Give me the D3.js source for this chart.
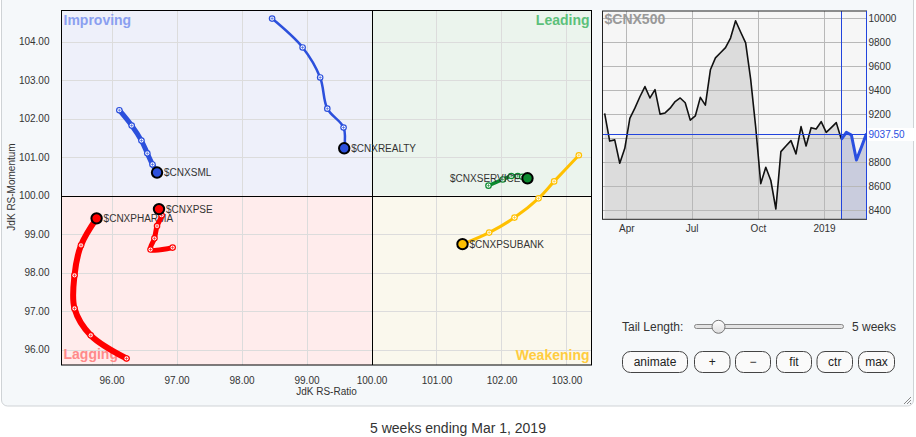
<!DOCTYPE html>
<html><head><meta charset="utf-8">
<script src="https://cdn.jsdelivr.net/npm/d3@7"></script>
<style>
body{margin:0;background:#fff;font-family:"Liberation Sans",Arial,sans-serif;}
svg{display:block}
</style></head><body>
<svg id="c" width="916" height="437"></svg>
<script>
// ---------- RRG data ----------
const xTicks = [96, 97, 98, 99, 100, 101, 102, 103];
const yTicks = [96, 97, 98, 99, 100, 101, 102, 103, 104];
const quadrantNames = ["Improving", "Leading", "Lagging", "Weakening"];
const sectorNames = ["$CNXREALTY", "$CNXSML", "$CNXSERVICE", "$CNXPSUBANK", "$CNXPHARMA", "$CNXPSE"];
const realtyRatio = [98.47, 98.94, 99.21, 99.32, 99.57, 99.58];
const realtyMom   = [104.60, 103.85, 103.07, 102.26, 101.77, 101.23];
const smlRatio = [96.12, 96.31, 96.46, 96.55, 96.63, 96.70];
const smlMom   = [102.22, 101.82, 101.43, 101.10, 100.81, 100.60];
const serviceRatio = [101.80, 102.02, 102.15, 102.25, 102.32, 102.40];
const serviceMom   = [100.26, 100.42, 100.51, 100.51, 100.49, 100.45];
const psubankRatio = [103.19, 102.81, 102.57, 102.20, 101.81, 101.40];
const psubankMom   = [101.05, 100.37, 99.93, 99.43, 99.04, 98.74];
const pharmaRatio = [96.23, 95.68, 95.43, 95.43, 95.53, 95.77];
const pharmaMom   = [95.77, 96.37, 97.07, 97.93, 98.71, 99.41];
const pseRatio = [96.94, 96.60, 96.66, 96.70, 96.77, 96.73];
const pseMom   = [98.65, 98.60, 98.89, 99.21, 99.49, 99.65];

// ---------- Benchmark data ($CNX500 weekly closes) ----------
const benchName = "$CNX500";
const benchLast = 9037.50;
const benchValues = [9207, 8975, 8985, 8790, 8915, 9165, 9250, 9345, 9430, 9335,
  9405, 9200, 9210, 9250, 9305, 9335, 9295, 9150, 9185, 9340,
  9275, 9570, 9670, 9712, 9755, 9835, 9980, 9886, 9795, 9490,
  9090, 8620, 8756, 8646, 8408, 8887, 8934, 8979, 8868, 9096,
  8934, 9087, 9076, 9137, 9048, 9088, 9129, 8990, 9048, 9026,
  8817, 8925, 9037.5];
const benchYTicks = [8400, 8600, 8800, 9000, 9200, 9400, 9600, 9800, 10000];
const benchXTickLabels = ["Apr", "Jul", "Oct", "2019"];
const tailWeeks = 5;
const caption = "5 weeks ending Mar 1, 2019";
const buttonLabels = ["animate", "+", "\u2212", "fit", "ctr", "max"];

// ---------- styles ----------
const seriesStyle = {
  "$CNXREALTY":  {color: "#2c50dc", width: 2.5, labelSide: "right"},
  "$CNXSML":     {color: "#2c50dc", width: 5,   labelSide: "right"},
  "$CNXSERVICE": {color: "#0a8a2e", width: 3.5, labelSide: "left"},
  "$CNXPSUBANK": {color: "#ffc000", width: 3,   labelSide: "right"},
  "$CNXPHARMA":  {color: "#ff0000", width: 6,   labelSide: "right"},
  "$CNXPSE":     {color: "#ff0000", width: 5,   labelSide: "right"}
};
const seriesData = {
  "$CNXREALTY": [realtyRatio, realtyMom],
  "$CNXSML": [smlRatio, smlMom],
  "$CNXSERVICE": [serviceRatio, serviceMom],
  "$CNXPSUBANK": [psubankRatio, psubankMom],
  "$CNXPHARMA": [pharmaRatio, pharmaMom],
  "$CNXPSE": [pseRatio, pseMom]
};

const svg = d3.select("#c");
const FONT = "'Liberation Sans', Arial, sans-serif";

// container panel
svg.append("rect").attr("x", 1.5).attr("y", -10).attr("width", 912).attr("height", 416)
  .attr("rx", 6).attr("fill", "#f5f8fa").attr("stroke", "#cfd3d6");
// resize grip
const grip = svg.append("g").attr("stroke", "#888").attr("stroke-width", 1);
[[904, 404, 911, 397], [907, 404, 911, 400], [910, 404, 911, 403]].forEach(l =>
  grip.append("line").attr("x1", l[0]).attr("y1", l[1]).attr("x2", l[2]).attr("y2", l[3]));

// ---------- main RRG ----------
const L = 61.5, R = 591.5, T = 10.5, B = 365;
const x = d3.scaleLinear().domain([95.23, 103.385]).range([L, R]);
const y = d3.scaleLinear().domain([95.6, 104.81]).range([B, T]);
const cx = x(100), cy = y(100);

const quadFill = {Improving: "#eef0fa", Leading: "#ebf4ed", Lagging: "#ffecec", Weakening: "#faf8ed"};
const quadText = {Improving: "#8a9ff0", Leading: "#5cc07a", Lagging: "#ff8a8a", Weakening: "#ffcc40"};
const quadRect = {
  Improving: [L, T, cx, cy], Leading: [cx, T, R, cy],
  Lagging: [L, cy, cx, B], Weakening: [cx, cy, R, B]
};
quadrantNames.forEach(q => {
  const r = quadRect[q];
  svg.append("rect").attr("x", r[0]).attr("y", r[1]).attr("width", r[2] - r[0]).attr("height", r[3] - r[1])
    .attr("fill", quadFill[q]);
});
const grid = svg.append("g").attr("stroke", "#dcdcdc").attr("stroke-width", 1);
xTicks.forEach(t => grid.append("line").attr("x1", Math.round(x(t)) + 0.5).attr("x2", Math.round(x(t)) + 0.5).attr("y1", T).attr("y2", B));
yTicks.forEach(t => grid.append("line").attr("y1", Math.round(y(t)) + 0.5).attr("y2", Math.round(y(t)) + 0.5).attr("x1", L).attr("x2", R));
svg.append("line").attr("x1", Math.round(cx) + 0.5).attr("x2", Math.round(cx) + 0.5).attr("y1", T).attr("y2", B).attr("stroke", "#000");
svg.append("line").attr("y1", Math.round(cy) + 0.5).attr("y2", Math.round(cy) + 0.5).attr("x1", L).attr("x2", R).attr("stroke", "#000");
svg.append("rect").attr("x", L).attr("y", T).attr("width", R - L).attr("height", B - T)
  .attr("fill", "none").attr("stroke", "#000");

// quadrant labels
const qPos = {
  Improving: [L + 2, T + 14, "start"], Leading: [R - 2, T + 14, "end"],
  Lagging: [L + 2, B - 6, "start"], Weakening: [R - 2, B - 5, "end"]
};
quadrantNames.forEach(q => {
  const p = qPos[q];
  svg.append("text").attr("x", p[0]).attr("y", p[1]).attr("text-anchor", p[2])
    .attr("font-family", FONT).attr("font-size", 14).attr("font-weight", "bold")
    .attr("fill", quadText[q]).text(q);
});

// axes (labels only)
const xAxis = d3.axisBottom(x).tickValues(xTicks).tickFormat(d3.format(".2f")).tickSize(0).tickPadding(12);
const gx = svg.append("g").attr("transform", `translate(0,${B})`).call(xAxis);
const yAxis = d3.axisLeft(y).tickValues(yTicks).tickFormat(d3.format(".2f")).tickSize(0).tickPadding(12);
const gy = svg.append("g").attr("transform", `translate(${L},0)`).call(yAxis);
[gx, gy].forEach(g => {
  g.select(".domain").remove();
  g.selectAll("text").attr("font-family", FONT).attr("font-size", 10).attr("fill", "#333");
});
svg.append("text").attr("x", (L + R) / 2).attr("y", 395).attr("text-anchor", "middle")
  .attr("font-family", FONT).attr("font-size", 10).attr("fill", "#333").text("JdK RS-Ratio");
svg.append("text").attr("transform", "translate(15,187) rotate(-90)").attr("text-anchor", "middle")
  .attr("font-family", FONT).attr("font-size", 10).attr("fill", "#333").text("JdK RS-Momentum");

// series
const line = d3.line().x(d => x(d[0])).y(d => y(d[1])).curve(d3.curveCatmullRom.alpha(0.5));
sectorNames.forEach(name => {
  const [rs, mo] = seriesData[name];
  const pts = rs.map((v, i) => [v, mo[i]]);
  const st = seriesStyle[name];
  const g = svg.append("g");
  g.append("path").attr("d", line(pts)).attr("fill", "none").attr("stroke", st.color)
    .attr("stroke-width", st.width).attr("stroke-linecap", "round").attr("stroke-linejoin", "round");
  pts.slice(0, -1).forEach(p => {
    const px = x(p[0]), py = y(p[1]);
    g.append("circle").attr("cx", px).attr("cy", py).attr("r", 3.3).attr("fill", st.color);
    g.append("circle").attr("cx", px).attr("cy", py).attr("r", 2.1).attr("fill", "#fff");
    g.append("line").attr("x1", px - 1.6).attr("x2", px + 1.6).attr("y1", py).attr("y2", py).attr("stroke", st.color).attr("stroke-width", 0.6);
    g.append("line").attr("y1", py - 1.6).attr("y2", py + 1.6).attr("x1", px).attr("x2", px).attr("stroke", st.color).attr("stroke-width", 0.6);
  });
  const h = pts[pts.length - 1];
  g.append("circle").attr("cx", x(h[0])).attr("cy", y(h[1])).attr("r", 5.2)
    .attr("fill", st.color).attr("stroke", "#000").attr("stroke-width", 2);
  const right = st.labelSide === "right";
  g.append("text").attr("x", x(h[0]) + (right ? 7 : -7)).attr("y", y(h[1])).attr("dy", "0.35em")
    .attr("text-anchor", right ? "start" : "end")
    .attr("font-family", FONT).attr("font-size", 10).attr("fill", "#333").text(name);
});

// ---------- benchmark mini chart ----------
const mL = 602.5, mR = 866.5, mT = 11, mB = 219.3;
const endDate = new Date(2019, 2, 1);
const dates = benchValues.map((v, i) => d3.timeDay.offset(endDate, -7 * (benchValues.length - 1 - i)));
const mx = d3.scaleTime().domain([d3.timeDay.offset(endDate, -367), endDate]).range([mL, mR]);
const my = d3.scaleLinear().domain([8322, 10061]).range([mB, mT]);
const bench = benchValues.map((v, i) => [dates[i], v]);
const tailStart = bench.length - 1 - tailWeeks;

svg.append("rect").attr("x", mL).attr("y", mT).attr("width", mR - mL).attr("height", mB - mT).attr("fill", "#f6f6f6");
const clip = svg.append("clipPath").attr("id", "mclip");
clip.append("rect").attr("x", mL).attr("y", mT).attr("width", mR - mL).attr("height", mB - mT);
const mg = svg.append("g").attr("clip-path", "url(#mclip)");
const area = d3.area().x(d => mx(d[0])).y0(mB).y1(d => my(d[1]));
mg.append("path").attr("d", area(bench.slice(0, tailStart + 1))).attr("fill", "#dcdcdc");
mg.append("path").attr("d", area(bench.slice(tailStart))).attr("fill", "#c9ccdd");
// grid
const monthTicks = [new Date(2018, 3, 1), new Date(2018, 6, 1), new Date(2018, 9, 1), new Date(2019, 0, 1)];
benchYTicks.forEach(t => mg.append("line").attr("x1", mL).attr("x2", mR)
  .attr("y1", Math.round(my(t)) + 0.5).attr("y2", Math.round(my(t)) + 0.5).attr("stroke", "#b8b8b8"));
monthTicks.forEach(t => mg.append("line").attr("y1", mT).attr("y2", mB)
  .attr("x1", Math.round(mx(t)) + 0.5).attr("x2", Math.round(mx(t)) + 0.5).attr("stroke", "#b8b8b8"));
const bl = d3.line().x(d => mx(d[0])).y(d => my(d[1]));
mg.append("path").attr("d", bl(bench.slice(0, tailStart + 1))).attr("fill", "none").attr("stroke", "#111").attr("stroke-width", 1.6).attr("stroke-linejoin", "round");
// markers for tail
const vx = Math.round(mx(dates[tailStart])) + 0.5;
mg.append("line").attr("x1", vx).attr("x2", vx).attr("y1", mT).attr("y2", mB).attr("stroke", "#2244dd").attr("stroke-width", 1);
const hy = Math.round(my(benchLast)) + 0.5;
svg.append("line").attr("x1", mL).attr("x2", mR).attr("y1", hy).attr("y2", hy).attr("stroke", "#2244dd").attr("stroke-width", 1);
mg.append("path").attr("d", bl(bench.slice(tailStart))).attr("fill", "none").attr("stroke", "#2a4fe0").attr("stroke-width", 3).attr("stroke-linejoin", "round");
// frame
svg.append("rect").attr("x", mL).attr("y", mT).attr("width", mR - mL).attr("height", mB - mT).attr("fill", "none").attr("stroke", "#222");
svg.append("line").attr("x1", mR).attr("x2", mR).attr("y1", mT).attr("y2", mB).attr("stroke", "#2244dd");
// title
svg.append("text").attr("x", mL + 2).attr("y", 24).attr("font-family", FONT).attr("font-size", 14)
  .attr("font-weight", "bold").attr("fill", "#999").text(benchName);
// y labels (the label nearest the last value is hidden behind the last-value tag)
const shownYTicks = benchYTicks.filter(t => Math.abs(my(t) - my(benchLast)) > 10);
const myAxis = d3.axisRight(my).tickValues(shownYTicks).tickFormat(d3.format("d")).tickSize(0).tickPadding(2);
const gmy = svg.append("g").attr("transform", `translate(${mR},0)`).call(myAxis);
gmy.select(".domain").remove();
gmy.selectAll("text").attr("font-family", FONT).attr("font-size", 10).attr("fill", "#333");
svg.append("rect").attr("x", mR + 1).attr("y", hy - 6.5).attr("width", 48).attr("height", 13).attr("fill", "#fff");
svg.append("text").attr("x", mR + 2).attr("y", hy).attr("dy", "0.35em").attr("font-family", FONT)
  .attr("font-size", 10).attr("fill", "#2a4fe0").text(d3.format(".2f")(benchLast));
// x labels
const mxAxis = d3.axisBottom(mx).tickValues(monthTicks).tickFormat((d, i) => benchXTickLabels[i]).tickSize(0).tickPadding(6);
const gmx = svg.append("g").attr("transform", `translate(0,${mB})`).call(mxAxis);
gmx.select(".domain").remove();
gmx.selectAll("text").attr("font-family", FONT).attr("font-size", 10).attr("fill", "#333");

// ---------- controls ----------
svg.append("text").attr("x", 622).attr("y", 327).attr("dy", "0.35em").attr("font-family", FONT)
  .attr("font-size", 12).attr("fill", "#333").text("Tail Length:");
svg.append("rect").attr("x", 694.5).attr("y", 324.5).attr("width", 149).attr("height", 4).attr("rx", 2)
  .attr("fill", "#e4e4e4").attr("stroke", "#888");
const grad = svg.append("defs").append("linearGradient").attr("id", "tg").attr("x1", 0).attr("y1", 0).attr("x2", 0).attr("y2", 1);
grad.append("stop").attr("offset", 0).attr("stop-color", "#fff");
grad.append("stop").attr("offset", 1).attr("stop-color", "#ddd");
svg.append("circle").attr("cx", 718.5).attr("cy", 326.8).attr("r", 6.5).attr("fill", "url(#tg)").attr("stroke", "#777");
svg.append("text").attr("x", 852).attr("y", 327).attr("dy", "0.35em").attr("font-family", FONT)
  .attr("font-size", 12).attr("fill", "#333").text(tailWeeks + " weeks");
const btnX = [[622.5, 687.5], [694.5, 730], [735.5, 770.5], [776.5, 811.5], [817, 852.5], [858.5, 894.5]];
buttonLabels.forEach((b, i) => {
  const [a, e] = btnX[i];
  svg.append("rect").attr("x", a).attr("y", 351.5).attr("width", e - a).attr("height", 21).attr("rx", 8)
    .attr("fill", "#fafafa").attr("stroke", "#444");
  svg.append("text").attr("x", (a + e) / 2).attr("y", 362).attr("dy", "0.35em").attr("text-anchor", "middle")
    .attr("font-family", FONT).attr("font-size", 12).attr("fill", "#222").text(b);
});

// caption
svg.append("text").attr("x", 458).attr("y", 428).attr("dy", "0.35em").attr("text-anchor", "middle")
  .attr("font-family", FONT).attr("font-size", 14).attr("fill", "#333").text(caption);
</script>
</body></html>
